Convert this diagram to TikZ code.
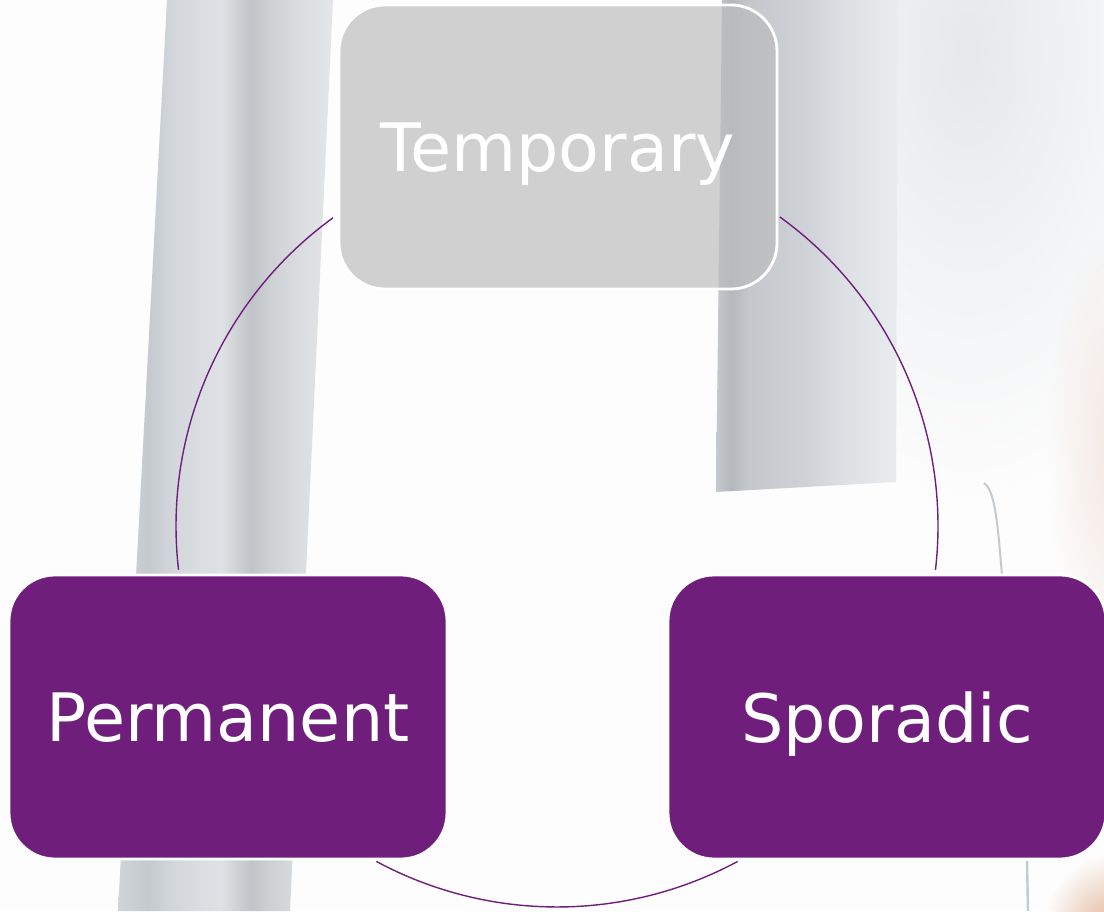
\documentclass[tikz,border=0pt]{standalone}
\usepackage{fontspec}
\setmainfont{DejaVu Sans}
\usetikzlibrary{fadings}

\definecolor{cyclepurple}{RGB}{111,31,123}
\definecolor{fadedgray}{RGB}{187,187,188}
\definecolor{paper}{RGB}{253,253,253}
\definecolor{pa}{RGB}{208,212,216}
\definecolor{pb}{RGB}{197,202,206}
\definecolor{pc}{RGB}{211,215,219}
\definecolor{pd}{RGB}{223,226,229}
\definecolor{pe}{RGB}{192,195,199}
\definecolor{pf}{RGB}{205,208,211}
\definecolor{pg}{RGB}{218,221,224}
\definecolor{ph}{RGB}{228,230,232}
\definecolor{qa}{RGB}{198,202,206}
\definecolor{qb}{RGB}{180,184,188}
\definecolor{qc}{RGB}{196,200,204}
\definecolor{qd}{RGB}{205,209,213}
\definecolor{qe}{RGB}{222,226,229}
\definecolor{qf}{RGB}{233,236,238}
\definecolor{haze}{RGB}{230,233,236}
\definecolor{skin}{RGB}{226,178,148}
\definecolor{blush}{RGB}{243,232,226}

% pillar shadings, stops between 25bp and 75bp span the path
\pgfdeclarehorizontalshading{leftpillar}{100bp}{color(0bp)=(pa); color(25bp)=(pa);
  color(32bp)=(pb); color(38bp)=(pc); color(49bp)=(pd); color(56bp)=(pe);
  color(60bp)=(pf); color(67bp)=(pg); color(75bp)=(ph); color(100bp)=(ph)}
\pgfdeclarehorizontalshading{midpillar}{100bp}{color(0bp)=(qa); color(25bp)=(qa);
  color(29bp)=(qb); color(34bp)=(qc); color(48bp)=(qd); color(62bp)=(qe);
  color(75bp)=(qf); color(100bp)=(qf)}
\tikzfading[name=softspot, inner color=transparent!0, outer color=transparent!100]

\begin{document}
\begin{tikzpicture}[
    stagebox/.style={rectangle, rounded corners=1.15cm, draw=white, line width=2pt,
      minimum width=10.95cm, minimum height=7.1cm, inner sep=0pt, text=white,
      text depth=0pt, font=\fontsize{47.5}{57}\selectfont},
    activebox/.style={stagebox, fill=cyclepurple},
    fadedbox/.style={stagebox, fill=fadedgray, fill opacity=0.68, text opacity=1},
    ring/.style={draw=cyclepurple, line width=0.035cm}
  ]
        \useasboundingbox (0,0) rectangle (27.600000,22.775000);

        % Backdrop
        \fill [paper] (0,0) rectangle (27.600000,22.775000);%
        \fill [haze, path fading=softspot] (24.200000,21.500000) ellipse [x radius=6.000000, y radius=11.000000];%
        \fill [blush, path fading=softspot] (27.800000,11.500000) ellipse [x radius=1.600000, y radius=5.500000];%
        \fill [skin, path fading=softspot] (27.800000,-0.500000) ellipse [x radius=1.700000, y radius=1.900000];%
        \shade [shading=leftpillar] (4.175000,22.775000) -- (8.325000,22.775000) -- (7.250000,0.000000) -- (2.950000,0.000000) -- cycle;%
        \shade [shading=midpillar] (18.050000,22.775000) -- (22.450000,22.775000) -- (22.400000,10.725000) -- (17.900000,10.475000) -- cycle;%
        \draw [line width=0.05cm, pb] (24.600000,10.700000) .. controls (24.900000,10.500000) and (24.950000,9.500000) .. (25.050000,8.400000);%
        \draw [line width=0.06cm, pb] (25.675000,1.250000) -- (25.700000,0.000000);%

        % Ring centre
        \coordinate (ring) at (13.925000,9.625000);%

        % Drawing ring arcs between the boxes
        \draw [ring] ([shift={(126:9.525)}]ring) arc [start angle=126, end angle=186.6, radius=9.525];%
        \draw [ring] ([shift={(241.7:9.525)}]ring) arc [start angle=241.7, end angle=298.3, radius=9.525];%
        \draw [ring] ([shift={(-6.6:9.525)}]ring) arc [start angle=-6.6, end angle=54.2, radius=9.525];%

        % Drawing box Temporary
        \draw (13.950000,19.100000) node [fadedbox] (temporary) {Temporary};%

        % Drawing box Permanent
        \draw (5.700000,4.850000) node [activebox] (permanent) {Permanent};%

        % Drawing box Sporadic
        \draw (22.175000,4.850000) node [activebox] (sporadic) {Sporadic};%
\end{tikzpicture}
\end{document}
